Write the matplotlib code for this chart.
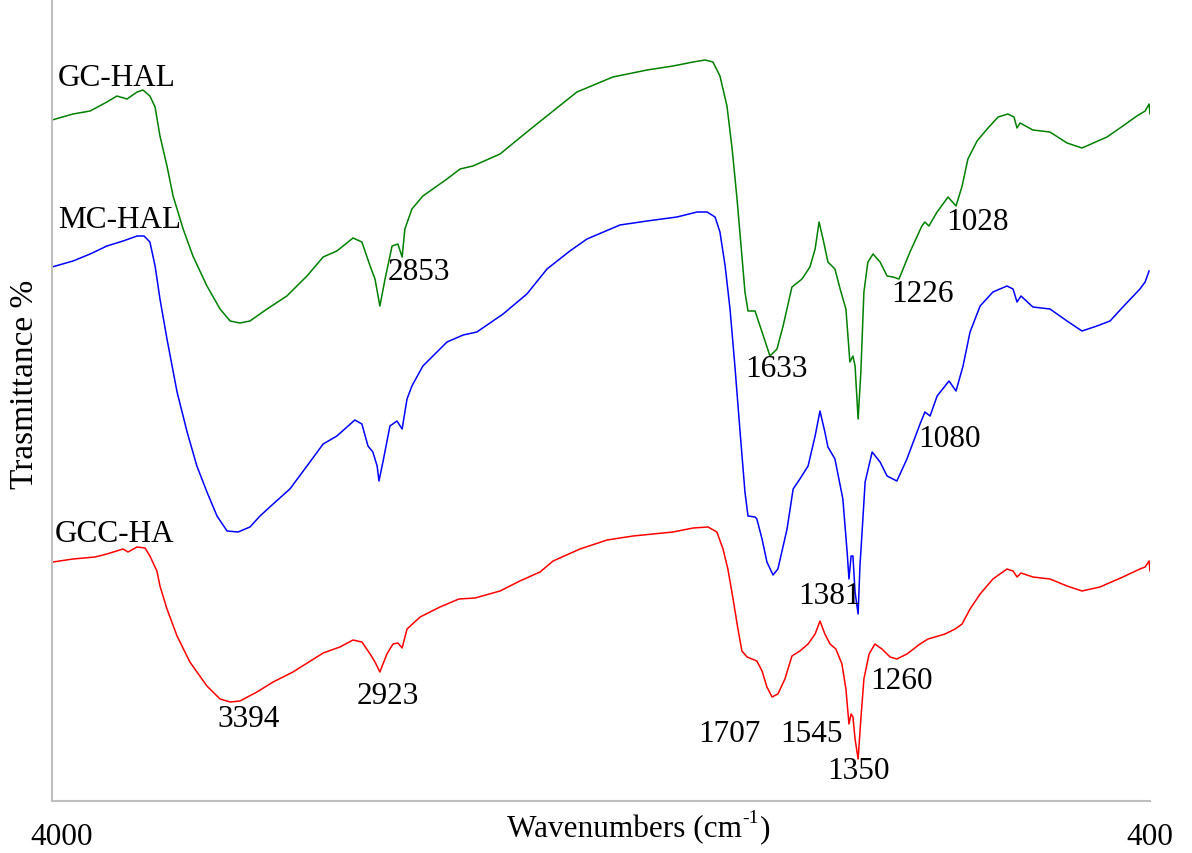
import numpy as np
import matplotlib
matplotlib.use("Agg")
import matplotlib.pyplot as plt
from matplotlib.transforms import ScaledTranslation

plt.rcParams["font.family"] = ["Liberation Serif", "DejaVu Serif"]

# FTIR spectra (wavenumber cm-1, transmittance a.u.)
gc_hal_wn = [4000, 3931, 3875, 3820, 3787, 3754, 3721, 3702, 3679, 3662, 3646, 3623, 3603,
             3570, 3538, 3492, 3449, 3416, 3384, 3351, 3295, 3230, 3164, 3111, 3066, 3013,
             2984, 2957, 2941, 2925, 2908, 2885, 2866, 2852, 2843, 2820, 2784, 2705, 2662,
             2620, 2531, 2443, 2357, 2279, 2161, 2049, 1964, 1898, 1859, 1833, 1810, 1787,
             1770, 1754, 1738, 1728, 1718, 1695, 1672, 1646, 1623, 1603, 1574, 1541, 1515,
             1498, 1485, 1472, 1456, 1433, 1416, 1397, 1384, 1374, 1367, 1357, 1348, 1338,
             1325, 1308, 1285, 1262, 1243, 1223, 1187, 1148, 1138, 1125, 1098, 1062, 1036,
             1016, 997, 967, 934, 898, 866, 846, 836, 826, 784, 728, 672, 623, 541, 489,
             443, 416, 403, 400]
gc_hal_t = [68.1, 68.7, 69.0, 69.9, 70.5, 70.2, 70.9, 71.1, 70.5, 69.4, 66.5, 63.5, 60.5,
            57.2, 54.5, 51.5, 49.2, 48.0, 47.8, 48.0, 49.2, 50.5, 52.5, 54.4, 55.0, 56.3,
            55.9, 53.5, 52.2, 49.5, 52.2, 55.5, 55.7, 54.4, 57.2, 59.2, 60.5, 62.2, 63.2,
            63.5, 64.7, 66.9, 69.0, 70.9, 72.4, 73.1, 73.5, 73.9, 74.1, 73.9, 72.5, 69.5,
            65.2, 60.2, 54.5, 50.9, 49.0, 49.0, 46.9, 44.5, 45.2, 47.5, 51.4, 52.2, 53.4,
            55.2, 57.9, 56.2, 53.9, 53.2, 51.2, 49.2, 43.9, 44.5, 43.5, 38.2, 42.9, 50.9,
            53.9, 54.7, 53.9, 52.5, 52.4, 52.2, 54.9, 57.5, 57.9, 57.5, 58.9, 60.4, 59.5,
            61.5, 64.2, 66.0, 67.2, 68.4, 68.7, 68.4, 67.3, 67.8, 67.1, 66.9, 65.8, 65.3,
            66.4, 67.5, 68.5, 69.0, 69.7, 68.7]

mc_hal_wn = [4000, 3931, 3875, 3820, 3767, 3721, 3698, 3679, 3662, 3646, 3623, 3590, 3557,
             3525, 3492, 3459, 3426, 3390, 3351, 3318, 3275, 3220, 3164, 3111, 3066, 3007,
             2984, 2964, 2948, 2934, 2928, 2915, 2892, 2869, 2852, 2836, 2820, 2784, 2705,
             2652, 2607, 2521, 2443, 2377, 2302, 2246, 2138, 2049, 1951, 1885, 1852, 1826,
             1810, 1793, 1777, 1761, 1744, 1728, 1718, 1695, 1689, 1672, 1656, 1636, 1620,
             1590, 1570, 1548, 1521, 1498, 1482, 1466, 1456, 1433, 1407, 1393, 1387, 1380,
             1374, 1367, 1357, 1351, 1344, 1334, 1311, 1285, 1262, 1230, 1197, 1154, 1138,
             1121, 1098, 1059, 1036, 1013, 990, 957, 915, 869, 849, 836, 823, 784, 728, 672,
             623, 574, 531, 489, 433, 416, 403]
mc_hal_t = [53.4, 54.0, 54.7, 55.5, 56.0, 56.5, 56.5, 55.9, 53.5, 50.2, 46.2, 40.9, 36.9,
            33.5, 30.9, 28.5, 27.0, 26.9, 27.4, 28.5, 29.7, 31.2, 33.5, 35.7, 36.5, 38.1,
            37.7, 35.5, 34.9, 33.5, 32.0, 33.9, 37.5, 38.0, 37.2, 40.2, 41.5, 43.5, 45.9,
            46.6, 46.9, 48.7, 50.7, 53.2, 55.0, 56.2, 57.6, 58.0, 58.4, 58.9, 58.9, 58.4,
            56.9, 53.5, 49.2, 43.5, 36.9, 30.9, 28.5, 28.4, 28.2, 26.2, 23.9, 22.6, 23.2,
            27.2, 31.2, 32.2, 33.5, 36.5, 39.0, 36.9, 35.4, 34.2, 30.2, 24.9, 22.2, 24.5,
            24.5, 20.9, 18.7, 23.5, 26.9, 31.9, 34.9, 33.9, 32.5, 32.0, 34.2, 37.7, 38.9,
            38.5, 40.5, 42.0, 41.0, 43.5, 46.9, 49.5, 50.9, 51.5, 51.2, 49.9, 50.5, 49.4,
            49.2, 48.0, 47.0, 47.5, 48.0, 49.4, 51.2, 51.9, 53.0]

gcc_ha_wn = [3997, 3931, 3859, 3820, 3767, 3751, 3721, 3695, 3679, 3656, 3646, 3623, 3590,
             3548, 3492, 3449, 3416, 3384, 3328, 3275, 3210, 3111, 3056, 3013, 2984, 2957,
             2941, 2925, 2902, 2882, 2866, 2852, 2836, 2793, 2728, 2666, 2613, 2531, 2466,
             2400, 2357, 2269, 2180, 2095, 1964, 1898, 1849, 1820, 1800, 1784, 1767, 1751,
             1738, 1721, 1705, 1689, 1672, 1656, 1639, 1620, 1597, 1574, 1548, 1521, 1498,
             1482, 1466, 1449, 1430, 1410, 1397, 1387, 1380, 1374, 1367, 1357, 1348, 1338,
             1321, 1302, 1279, 1252, 1230, 1197, 1154, 1128, 1105, 1072, 1039, 1016, 990,
             957, 915, 869, 849, 836, 823, 784, 728, 672, 623, 564, 489, 433, 416, 403, 400]
gcc_ha_t = [23.9, 24.2, 24.4, 24.7, 25.2, 24.9, 25.4, 25.3, 24.5, 23.0, 21.5, 19.2, 16.5,
            13.9, 11.5, 10.2, 9.9, 10.0, 10.9, 11.9, 12.9, 14.8, 15.4, 16.1, 15.9, 14.7,
            13.9, 12.9, 14.7, 15.7, 15.8, 15.3, 17.2, 18.4, 19.4, 20.2, 20.3, 21.0, 22.0,
            22.9, 24.0, 25.2, 26.1, 26.5, 26.9, 27.3, 27.4, 26.9, 25.2, 23.2, 20.2, 17.2,
            15.0, 14.4, 14.2, 14.0, 13.0, 11.4, 10.4, 10.7, 12.2, 14.5, 15.0, 15.7, 16.7,
            18.0, 16.7, 15.7, 15.2, 13.7, 11.2, 7.7, 8.7, 8.4, 6.2, 4.2, 8.2, 12.2,
            14.7, 15.7, 15.2, 14.4, 14.2, 14.7, 15.7, 16.2, 16.4, 16.7, 17.2, 17.7, 19.2,
            20.7, 22.2, 23.2, 23.0, 22.4, 22.8, 22.4, 22.2, 21.5, 21.0, 21.4, 22.4, 23.2,
            23.4, 24.0, 23.0]

series_names = ["GC-HAL", "MC-HAL", "GCC-HA"]
series_colors = ["#008000", "#0000ff", "#ff0000"]

# peak labels: text, wavenumber, transmittance (left edge / vertical centre)
peak_labels = ["2853", "1633", "1226", "1028", "1080", "1381",
               "3394", "2923", "1707", "1545", "1260", "1350"]
peak_x = [2898, 1728, 1249, 1069, 1161, 1554, 3459, 3000, 1882, 1613, 1318, 1459]
peak_y = [52.9, 43.2, 50.7, 57.9, 36.2, 20.5, 8.2, 10.5, 6.7, 6.7, 12.0, 3.0]

name_x = [3980, 3980, 3990]
name_y = [72.4, 58.2, 26.8]

fig = plt.figure(figsize=(11.92, 8.54), dpi=100)
ax = fig.add_axes([52 / 1192, 52 / 854, 1098 / 1192, 802 / 854])

for wn, t, c in zip([gc_hal_wn, mc_hal_wn, gcc_ha_wn],
                    [gc_hal_t, mc_hal_t, gcc_ha_t], series_colors):
    ax.plot(wn, t, color=c, lw=1.1)

for name, x, y in zip(series_names, name_x, name_y):
    ax.text(x, y, name, fontsize=22.5, ha="left", va="center")

for lab, x, y in zip(peak_labels, peak_x, peak_y):
    ax.text(x, y, lab, fontsize=22.5, ha="left", va="center")

ax.set_xlim(4000, 400)
ax.set_ylim(0, 80.2)
ax.set_yticks([])
ax.set_xticks([4000, 400])
ax.set_xticklabels(["4000", "400"], fontsize=22.5)
ax.tick_params(axis="x", length=0, pad=15)
ax.get_xticklabels()[0].set_transform(
    ax.get_xticklabels()[0].get_transform() + ScaledTranslation(0.10, 0, fig.dpi_scale_trans))

for s in ["top", "right"]:
    ax.spines[s].set_visible(False)
for s in ["left", "bottom"]:
    ax.spines[s].set_color("#bfbfbf")
    ax.spines[s].set_linewidth(1.5)

# x title with a small hyphen superscript, as in the original
base_y = 1 - 837 / 854
xt = fig.text(507 / 1192, base_y, "Wavenumbers (cm",
              fontsize=22.5, ha="left", va="baseline")
sup = fig.add_artist(plt.Annotation(
    "-1", xy=(1, base_y), xycoords=(xt, "figure fraction"), xytext=(0.5, 10),
    textcoords="offset points", fontsize=14, ha="left", va="baseline"))
fig.add_artist(plt.Annotation(
    ")", xy=(1, base_y), xycoords=(sup, "figure fraction"), xytext=(0.5, 0),
    textcoords="offset points", fontsize=22.5, ha="left", va="baseline"))

fig.text(25 / 1192, 1 - 384 / 854, "Trasmittance %", fontsize=24,
         rotation=90, ha="center", va="center")

fig.savefig("out.png", dpi=100)
